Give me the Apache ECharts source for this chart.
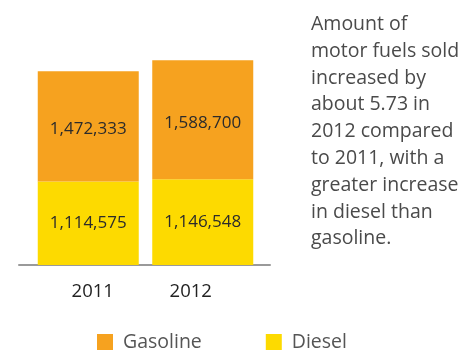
<!DOCTYPE html>
<html>
<head>
<meta charset="utf-8">
<script src="https://cdn.jsdelivr.net/npm/echarts@6/dist/echarts.min.js"></script>
<style>
  html, body { margin: 0; padding: 0; background: #fff; }
  #chart { width: 465px; height: 353px; }
</style>
</head>
<body>
<div id="chart"></div>
<script>
// Motor fuel sales by year (stacked: diesel at the bottom, gasoline on top)
const years = ['2011', '2012'];
const diesel = [1114575, 1146548];
const gasoline = [1472333, 1588700];
const noteLines = [
  'Amount of',
  'motor fuels sold',
  'increased by',
  'about 5.73 in',
  '2012 compared',
  'to 2011, with a',
  'greater increase',
  'in diesel than',
  'gasoline.'
];

const FONT = '"Open Sans", "Noto Sans", sans-serif';
const fmt = v => v.toLocaleString('en-US');

const chart = echarts.init(document.getElementById('chart'), null, { renderer: 'canvas' });

const valueLabel = (dy) => ({
  show: true,
  position: 'inside',
  offset: [0, dy],
  color: '#2b2b2b',
  fontFamily: FONT,
  fontSize: 17,
  formatter: p => fmt(p.value)
});

chart.setOption({
  animation: false,
  backgroundColor: '#ffffff',
  title: {
    text: noteLines.join('\n'),
    left: 306,
    top: 6,
    textStyle: {
      fontFamily: FONT,
      fontSize: 19.5,
      fontWeight: 'normal',
      color: '#4a4a4a',
      lineHeight: 26.8
    }
  },
  legend: {
    data: ['Gasoline', 'Diesel'],
    left: 97,
    top: 332,
    padding: 0,
    itemWidth: 16,
    itemHeight: 16,
    itemGap: 64,
    icon: 'rect',
    textStyle: {
      fontFamily: FONT,
      fontSize: 19.5,
      color: '#555555',
      padding: [0, 0, 0, 5]
    }
  },
  grid: [
    { left: 31, width: 229, top: 18, bottom: 88 },
    { left: 19, width: 251, top: 18, bottom: 88 }
  ],
  xAxis: [
    {
      type: 'category',
      gridIndex: 0,
      data: years,
      axisLine: { show: false },
      axisTick: { show: false },
      axisLabel: {
        margin: 17,
        fontFamily: FONT,
        fontSize: 18.5,
        color: '#222222',
        formatter: (v, i) => i === 0 ? '{a|' + v + '}' : '{b|' + v + '}',
        rich: {
          a: { fontFamily: FONT, fontSize: 18.5, color: '#222222', padding: [0, 0, 0, 9] },
          b: { fontFamily: FONT, fontSize: 18.5, color: '#222222', padding: [0, 24, 0, 0] }
        }
      }
    },
    {
      type: 'category',
      gridIndex: 1,
      data: years,
      axisLine: { show: true, lineStyle: { color: '#9a9a9a', width: 2 } },
      axisTick: { show: false },
      axisLabel: { show: false }
    }
  ],
  yAxis: [
    { type: 'value', gridIndex: 0, min: 0, max: 3300000, show: false },
    { type: 'value', gridIndex: 1, min: 0, max: 3300000, show: false }
  ],
  series: [
    {
      name: 'Diesel',
      type: 'bar',
      stack: 'fuel',
      xAxisIndex: 0,
      yAxisIndex: 0,
      data: diesel,
      barWidth: 101,
      itemStyle: { color: '#FDDA00' },
      label: valueLabel(0)
    },
    {
      name: 'Gasoline',
      type: 'bar',
      stack: 'fuel',
      xAxisIndex: 0,
      yAxisIndex: 0,
      data: gasoline,
      barWidth: 101,
      itemStyle: { color: '#F6A21F' },
      label: valueLabel(3)
    }
  ]
});
</script>
</body>
</html>
